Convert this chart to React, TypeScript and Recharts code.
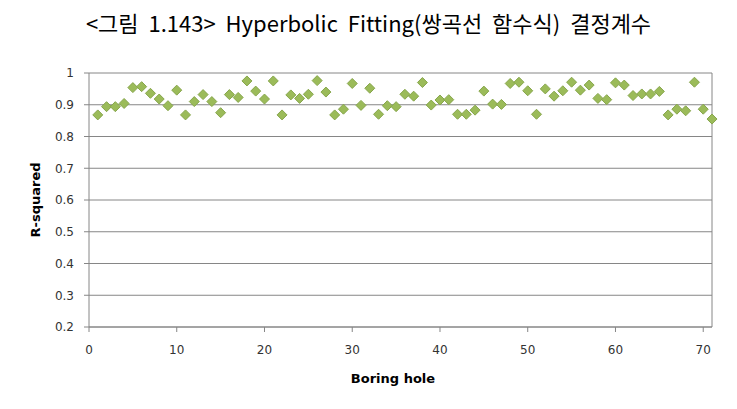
import { ScatterChart, Scatter, XAxis, YAxis, CartesianGrid, ReferenceLine } from "recharts";

// R-squared per boring hole (hole no. = index + 1)
const rSquared = [
  0.868, 0.894, 0.894, 0.904, 0.954, 0.957, 0.936, 0.918, 0.897, 0.946,
  0.868, 0.91, 0.932, 0.91, 0.875, 0.932, 0.923, 0.975, 0.943, 0.918,
  0.975, 0.868, 0.931, 0.92, 0.933, 0.976, 0.94, 0.868, 0.886, 0.967,
  0.898, 0.952, 0.87, 0.897, 0.894, 0.933, 0.927, 0.97, 0.899, 0.915,
  0.916, 0.87, 0.87, 0.883, 0.943, 0.902, 0.901, 0.967, 0.971, 0.944,
  0.87, 0.95, 0.927, 0.944, 0.971, 0.946, 0.962, 0.92, 0.916, 0.969,
  0.962, 0.929, 0.934, 0.934, 0.942, 0.868, 0.886, 0.881, 0.971, 0.886,
  0.855
];

const xTicks = [0, 10, 20, 30, 40, 50, 60, 70];
const yTicks = [0.2, 0.3, 0.4, 0.5, 0.6, 0.7, 0.8, 0.9, 1];

const points = rSquared.map((r, i) => ({ hole: i + 1, r }));

const AXIS = "#868686";

const Diamond = (props: any) => {
  const { cx, cy } = props;
  if (cx == null || cy == null) return null;
  const s = 5;
  return (
    <polygon
      points={`${cx},${cy - s} ${cx + s},${cy} ${cx},${cy + s} ${cx - s},${cy}`}
      fill="#9bbb59"
      stroke="#87a64c"
      strokeWidth={1}
    />
  );
};

const tickStyle = { fontSize: 12, fill: "#333", fontFamily: "DejaVu Sans" };

export default function App() {
  return (
    <div style={{ position: "absolute", left: 0, top: 0, width: 737, height: 409, background: "#fff" }}>
      <div
        style={{
          position: "absolute",
          left: 0,
          top: 8,
          width: 737,
          textAlign: "center",
          fontFamily: "'Noto Sans CJK KR', sans-serif",
          fontSize: 22,
          wordSpacing: 5,
          lineHeight: "28px",
          color: "#000"
        }}
      >
        &lt;그림 1.143&gt; Hyperbolic Fitting(쌍곡선 함수식) 결정계수
      </div>
      <ScatterChart width={737} height={409} margin={{ top: 73, right: 25, bottom: 0, left: 0 }}>
        <CartesianGrid vertical={false} stroke={AXIS} />
        <XAxis
          type="number"
          dataKey="hole"
          domain={[0, 71]}
          ticks={xTicks}
          height={82}
          stroke={AXIS}
          tickSize={5}
          tickMargin={13}
          tick={tickStyle}
        />
        <YAxis
          type="number"
          dataKey="r"
          domain={[0.2, 1]}
          ticks={yTicks}
          width={89}
          stroke={AXIS}
          tickSize={5}
          tickMargin={10}
          tick={tickStyle}
          tickFormatter={(v: number) => String(v)}
        />
        <ReferenceLine x={71} stroke={AXIS} />
        <Scatter data={points} shape={<Diamond />} isAnimationActive={false} />
      </ScatterChart>
      <div
        style={{
          position: "absolute",
          left: 35,
          top: 200,
          transform: "translate(-50%, -50%) rotate(-90deg)",
          fontFamily: "'DejaVu Sans', sans-serif",
          fontWeight: "bold",
          fontSize: 13,
          whiteSpace: "nowrap"
        }}
      >
        R-squared
      </div>
      <div
        style={{
          position: "absolute",
          left: 393,
          top: 378,
          transform: "translate(-50%, -50%)",
          fontFamily: "'DejaVu Sans', sans-serif",
          fontWeight: "bold",
          fontSize: 13,
          whiteSpace: "nowrap"
        }}
      >
        Boring hole
      </div>
    </div>
  );
}
